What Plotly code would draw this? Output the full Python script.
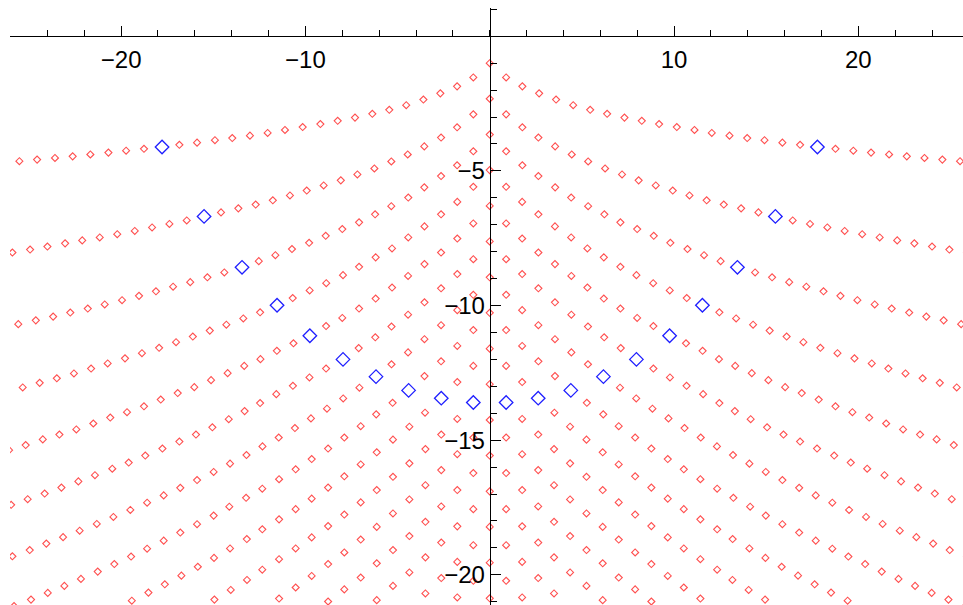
import plotly.graph_objects as go

# zeros (left half, x < 0); the right half is the mirror image
axis_y = [-1.00, -2.32, -3.65, -4.97, -6.30, -7.62, -8.95, -10.27, -11.60, -12.92,
          -14.25, -15.57, -16.90, -18.22, -19.55, -20.87]

ray1_x = [-0.89, -1.77, -2.68, -3.60, -4.53, -5.45, -6.37, -7.31, -8.25, -9.19, -10.15, -11.11, -12.05, -13.01,
          -13.97, -14.91, -15.88, -16.84, -18.76, -19.73, -20.69, -21.67, -22.63, -23.59, -24.56, -25.52]
ray1_y = [-1.53, -1.86, -2.12, -2.35, -2.56, -2.73, -2.88, -3.02, -3.14, -3.26, -3.37, -3.48, -3.59, -3.69,
          -3.78, -3.86, -3.95, -4.03, -4.18, -4.25, -4.32, -4.39, -4.46, -4.52, -4.58, -4.64]

ray2_x = [-0.89, -1.77, -2.64, -3.55, -4.45, -5.34, -6.26, -7.18, -8.08, -9.01, -9.93, -10.84, -11.77, -12.70,
          -13.64, -14.58, -16.44, -17.38, -18.32, -19.26, -20.21, -21.16, -22.11, -23.04, -24.00, -24.94, -25.90]
ray2_y = [-2.90, -3.38, -3.76, -4.09, -4.39, -4.65, -4.91, -5.13, -5.35, -5.54, -5.73, -5.91, -6.09, -6.25,
          -6.39, -6.54, -6.84, -6.97, -7.10, -7.23, -7.35, -7.47, -7.58, -7.69, -7.81, -7.92, -8.03]

ray3_x = [-0.89, -1.77, -2.64, -3.55, -4.42, -5.34, -6.22, -7.09, -8.00, -8.90, -9.80, -10.73, -11.63, -12.53,
          -14.40, -15.32, -16.25, -17.18, -18.11, -19.03, -19.95, -20.89, -21.81, -22.76, -23.69, -24.63, -25.58]
ray3_y = [-4.27, -4.79, -5.19, -5.61, -5.99, -6.31, -6.61, -6.91, -7.16, -7.41, -7.67, -7.90, -8.13, -8.35,
          -8.77, -8.95, -9.13, -9.30, -9.47, -9.64, -9.80, -9.96, -10.11, -10.26, -10.41, -10.55, -10.69]

ray4_x = [-0.89, -1.76, -2.64, -3.54, -4.42, -5.30, -6.19, -7.09, -7.96, -8.87, -9.77, -10.69, -12.46, -13.37,
          -14.29, -15.19, -16.11, -17.02, -17.94, -18.87, -19.79, -20.73, -21.63, -22.56, -23.49, -24.42, -25.34]
ray4_y = [-5.59, -6.15, -6.61, -7.06, -7.47, -7.88, -8.21, -8.56, -8.87, -9.17, -9.44, -9.72, -10.25, -10.48,
          -10.71, -10.93, -11.15, -11.36, -11.57, -11.77, -11.96, -12.15, -12.34, -12.52, -12.70, -12.87, -13.04]

ray5_x = [-0.89, -1.76, -2.64, -3.54, -4.43, -5.30, -6.19, -7.09, -8.00, -8.88, -10.65, -11.55, -12.44, -13.32,
          -14.22, -15.12, -16.03, -16.93, -17.85, -18.76, -19.68, -20.59, -21.51, -22.43, -23.35, -24.25, -25.18, -26.08]
ray5_y = [-6.95, -7.51, -8.03, -8.46, -8.90, -9.33, -9.74, -10.11, -10.46, -10.76, -11.40, -11.68, -11.99, -12.24,
          -12.51, -12.77, -13.03, -13.25, -13.49, -13.74, -13.96, -14.16, -14.38, -14.60, -14.79, -14.97, -15.18, -15.37]

ray6_x = [-0.89, -1.76, -2.64, -3.54, -4.43, -5.33, -6.21, -7.11, -8.88, -9.78, -10.68, -11.58, -12.46, -13.30,
          -14.16, -15.05, -15.94, -16.84, -17.76, -18.69, -19.59, -20.48, -21.42, -22.32, -23.24, -24.15, -25.07, -25.97]
ray6_y = [-8.28, -8.83, -9.36, -9.88, -10.34, -10.78, -11.18, -11.58, -12.34, -12.67, -12.98, -13.29, -13.62, -13.92,
          -14.22, -14.52, -14.79, -15.05, -15.31, -15.57, -15.83, -16.06, -16.30, -16.53, -16.76, -16.98, -17.19, -17.40]

ray7_x = [-0.89, -1.76, -2.64, -3.54, -4.43, -5.33, -7.07, -7.95, -8.83, -9.70, -10.57, -11.45, -12.33, -13.20,
          -14.09, -14.98, -15.88, -16.79, -17.69, -18.59, -19.50, -20.42, -21.32, -22.25, -23.15, -24.06, -24.96, -25.90]
ray7_y = [-9.60, -10.17, -10.73, -11.25, -11.74, -12.18, -13.05, -13.45, -13.83, -14.19, -14.55, -14.90, -15.23, -15.55,
          -15.87, -16.18, -16.48, -16.77, -17.05, -17.32, -17.59, -17.85, -18.11, -18.36, -18.60, -18.84, -19.08, -19.31]

ray8_x = [-0.89, -1.76, -2.64, -3.54, -5.27, -6.16, -7.00, -7.89, -8.77, -9.66, -10.53, -11.43, -12.34, -13.22,
          -14.13, -14.98, -15.88, -16.79, -17.69, -18.59, -19.46, -20.37, -21.27, -22.18, -23.08, -23.98, -24.89, -25.81]
ray8_y = [-10.91, -11.50, -12.07, -12.62, -13.61, -14.04, -14.48, -14.90, -15.31, -15.70, -16.08, -16.45, -16.80, -17.14,
          -17.47, -17.80, -18.12, -18.43, -18.73, -19.03, -19.32, -19.60, -19.88, -20.15, -20.41, -20.67, -20.92, -21.16]

ray9_x = [-0.89, -1.76, -3.51, -4.36, -5.25, -6.13, -7.00, -7.89, -8.77, -9.66, -10.53, -11.43, -12.34, -13.18,
          -14.09, -14.96, -15.84, -16.73, -17.63, -18.52, -19.42]
ray9_y = [-12.24, -12.84, -13.98, -14.50, -14.98, -15.45, -15.90, -16.34, -16.76, -17.17, -17.56, -17.94, -18.31, -18.67,
          -19.02, -19.37, -19.70, -20.03, -20.35, -20.66, -20.96]

ray10_x = [-1.76, -2.63, -3.49, -4.36, -5.25, -6.13, -7.00, -7.89, -8.77, -9.66, -10.53, -11.43, -12.34, -13.17,
           -14.05, -14.94]
ray10_y = [-14.21, -14.79, -15.33, -15.86, -16.36, -16.85, -17.31, -17.76, -18.19, -18.61, -19.02, -19.42, -19.81, -20.19,
           -20.56, -20.92]

ray11_x = [-0.89, -1.76, -2.63, -3.49, -4.36, -5.25, -6.13, -7.00, -7.89, -8.77, -9.66, -10.53, -11.43]
ray11_y = [-14.90, -15.52, -16.11, -16.67, -17.20, -17.72, -18.22, -18.69, -19.17, -19.60, -20.04, -20.47, -20.88]

ray12_x = [-0.89, -1.76, -2.63, -3.49, -4.36, -5.25, -6.13, -7.00, -7.89, -8.77]
ray12_y = [-16.22, -16.85, -17.46, -18.03, -18.56, -19.08, -19.57, -20.10, -20.54, -20.99]

ray13_x = [-0.89, -1.76, -2.63, -3.49, -4.36, -5.25, -6.13]
ray13_y = [-17.56, -18.20, -18.80, -19.35, -19.91, -20.41, -20.94]

ray14_x = [-0.89, -1.76, -2.63, -3.49]
ray14_y = [-18.90, -19.52, -20.12, -20.69]

ray15_x = [-0.89, -1.76]
ray15_y = [-20.22, -20.84]

# highlighted zeros (left half)
blue_x = [-17.78, -15.50, -13.44, -11.54, -9.76, -7.96, -6.17, -4.40, -2.63, -0.89]
blue_y = [-4.11, -6.69, -8.58, -9.99, -11.12, -12.00, -12.64, -13.15, -13.44, -13.60]

rays = [(ray1_x, ray1_y), (ray2_x, ray2_y), (ray3_x, ray3_y), (ray4_x, ray4_y), (ray5_x, ray5_y),
        (ray6_x, ray6_y), (ray7_x, ray7_y), (ray8_x, ray8_y), (ray9_x, ray9_y), (ray10_x, ray10_y),
        (ray11_x, ray11_y), (ray12_x, ray12_y), (ray13_x, ray13_y), (ray14_x, ray14_y), (ray15_x, ray15_y)]

red_x = [0.0] * len(axis_y)
red_y = list(axis_y)
for xs, ys in rays:
    red_x += xs + [-v for v in xs]
    red_y += ys + ys

bx = blue_x + [-v for v in blue_x]
by = blue_y + blue_y

x_range = [-26.03, 25.68]
y_range = [-21.12, 1.05]

fig = go.Figure()
fig.add_trace(go.Scatter(x=red_x, y=red_y, mode='markers',
                         marker=dict(symbol='diamond-open', size=5.4, color='#ff5050', line=dict(width=1.1))))
fig.add_trace(go.Scatter(x=bx, y=by, mode='markers',
                         marker=dict(symbol='diamond-open', size=10.4, color='#1f1fff', line=dict(width=1.3))))

tick_font = dict(family='Liberation Sans, Arial, sans-serif', size=24, color='black')

fig.update_layout(
    width=963, height=605,
    margin=dict(l=10, r=0, t=8, b=0),
    plot_bgcolor='white', paper_bgcolor='white',
    showlegend=False,
    xaxis=dict(range=x_range, anchor='free', automargin=False,
               position=(0 - y_range[0]) / (y_range[1] - y_range[0]),
               side='bottom', showgrid=False, zeroline=False,
               showline=True, linecolor='black', linewidth=1,
               ticks='inside', ticklen=10, tickwidth=1, tickcolor='black',
               tickmode='array', tickvals=[-20, -10, 10, 20],
               minor=dict(tickmode='array', tickvals=list(range(-26, 27, 2)),
                          ticks='inside', ticklen=6, tickwidth=1, tickcolor='black', showgrid=False),
               tickfont=tick_font, ticklabelstandoff=2),
    yaxis=dict(range=y_range, anchor='free', automargin=False,
               position=(0 - x_range[0]) / (x_range[1] - x_range[0]),
               side='left', showgrid=False, zeroline=False,
               showline=True, linecolor='black', linewidth=1,
               ticks='inside', ticklen=10, tickwidth=1, tickcolor='black',
               tickmode='array', tickvals=[-20, -15, -10, -5],
               minor=dict(tickmode='array', tickvals=list(range(-21, 2)),
                          ticks='inside', ticklen=6, tickwidth=1, tickcolor='black', showgrid=False),
               tickfont=tick_font, ticklabelstandoff=0),
)

# drop the default page margin so the figure sits at the window's top-left corner
fig.write_html("out.html", config={'displayModeBar': False},
               post_script="document.body.style.margin='0';")
